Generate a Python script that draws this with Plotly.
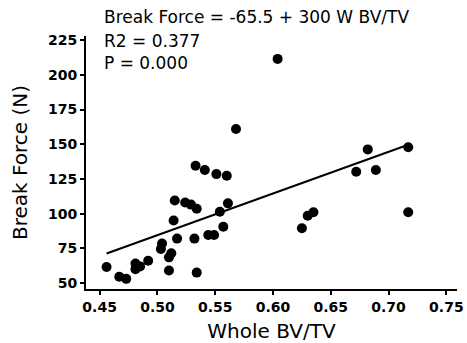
import plotly.graph_objects as go

# Data
bv_tv = [0.456, 0.467, 0.473, 0.481, 0.485, 0.492, 0.481, 0.504, 0.503, 0.512, 0.510,
         0.510, 0.514, 0.515, 0.517, 0.524, 0.529, 0.534, 0.532, 0.534, 0.533, 0.541,
         0.544, 0.549, 0.551, 0.560, 0.557, 0.554, 0.561, 0.568, 0.604, 0.625, 0.630,
         0.635, 0.672, 0.682, 0.689, 0.717, 0.717]
break_force = [61.5, 54.5, 53.0, 64.0, 62.0, 66.0, 60.0, 78.5, 74.5, 71.5, 68.5,
               59.0, 95.0, 109.5, 82.0, 108.0, 106.5, 103.5, 82.0, 57.5, 134.5, 131.5,
               84.6, 84.6, 128.5, 127.3, 90.6, 101.4, 107.4, 161.0, 211.5, 89.5, 98.5,
               101.0, 130.2, 146.3, 131.4, 147.8, 101.0]

intercept = -65.5
slope = 300.0
fit_x = [min(bv_tv), max(bv_tv)]

x_ticks = [0.45, 0.50, 0.55, 0.60, 0.65, 0.70, 0.75]
x_tick_labels = ["0.45", "0.50", "0.55", "0.60", "0.65", "0.70", "0.75"]
y_ticks = [50, 75, 100, 125, 150, 175, 200, 225]

stats_lines = ["Break Force = -65.5 + 300 W BV/TV", "R2 = 0.377", "P = 0.000"]

FONT = "DejaVu Sans"

fig = go.Figure()
fig.add_trace(go.Scatter(
    x=bv_tv, y=break_force, mode="markers",
    marker=dict(color="black", size=10, line=dict(width=0)),
    showlegend=False, hoverinfo="skip"))
fig.add_trace(go.Scatter(
    x=fit_x, y=[intercept + slope * v for v in fit_x], mode="lines",
    line=dict(color="black", width=2),
    showlegend=False, hoverinfo="skip"))

axis_common = dict(
    showline=True, linecolor="black", linewidth=2,
    showgrid=False, zeroline=False,
    ticks="outside", ticklen=4, tickwidth=1.5, tickcolor="black",
    tickfont=dict(family=FONT, size=14, color="black", weight="bold"),
)

fig.update_layout(
    width=467, height=343,
    margin=dict(l=86, r=10, t=36, b=54, autoexpand=False),
    paper_bgcolor="white", plot_bgcolor="white",
    hovermode=False,
    xaxis=dict(range=[0.4382, 0.7592], tickvals=x_ticks, ticktext=x_tick_labels,
               ticklabeloverflow="allow",
               title=dict(text="Whole BV/TV", font=dict(family=FONT, size=20, color="black")),
               automargin=False, **axis_common),
    yaxis=dict(range=[45.7, 228], tickvals=y_ticks,
               title=dict(text="Break Force (N)", font=dict(family=FONT, size=20, color="black")),
               automargin=False, **axis_common),
)

ypos = [1.075, 0.982, 0.893]
for txt, yp in zip(stats_lines, ypos):
    fig.add_annotation(text=txt, xref="paper", yref="paper", x=0.043, y=yp,
                       xanchor="left", yanchor="middle", showarrow=False,
                       font=dict(family=FONT, size=17, color="black"))

fig.write_html("out.html", config={"displayModeBar": False},
               post_script="document.body.style.margin='0px';")
